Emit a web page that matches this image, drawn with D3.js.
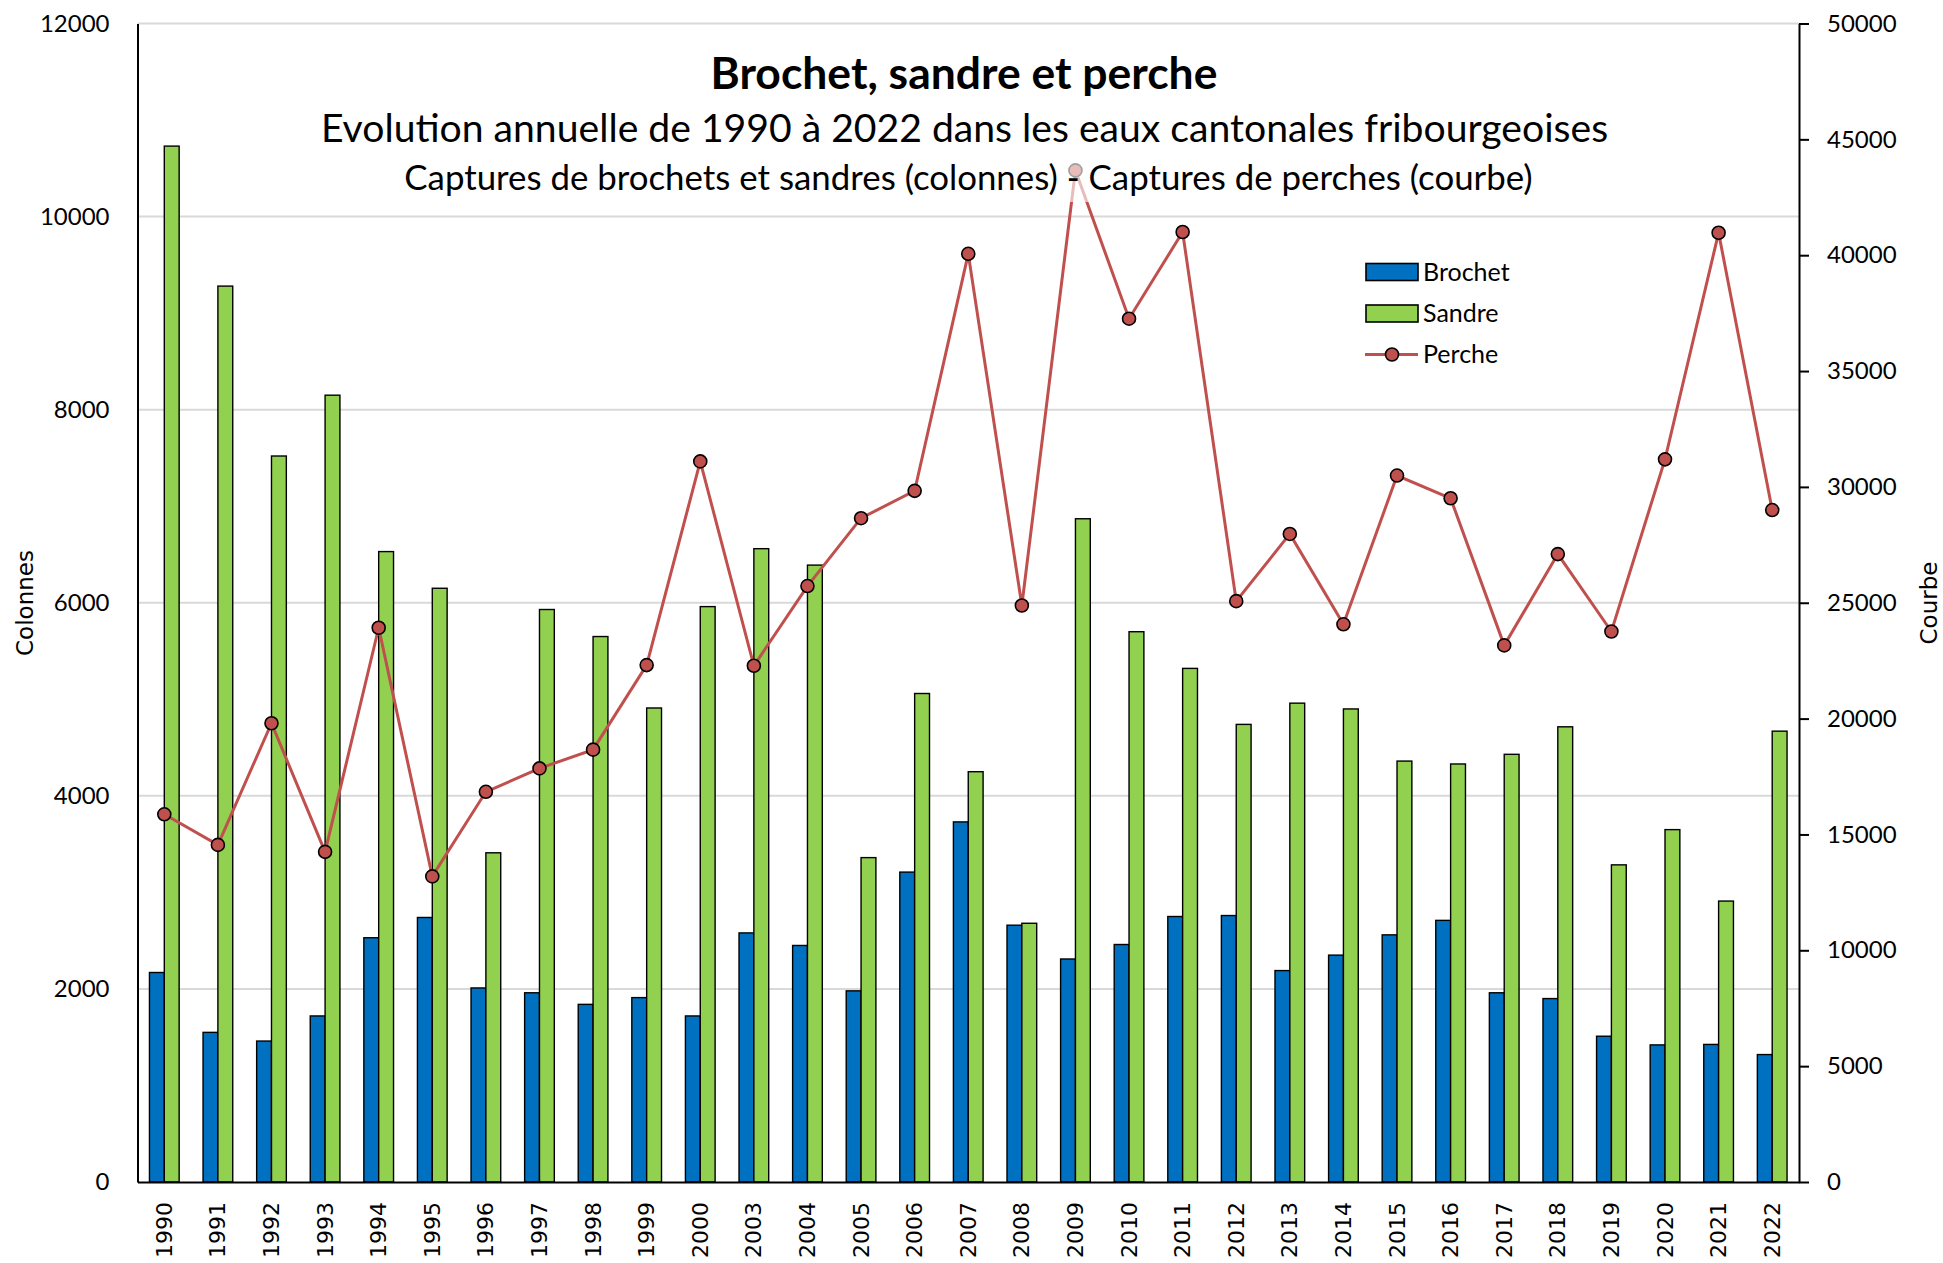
<!DOCTYPE html>
<html>
<head>
<meta charset="utf-8">
<script src="https://cdn.jsdelivr.net/npm/d3@7"></script>
<style>
  html, body { margin: 0; padding: 0; background: #ffffff; }
  svg { display: block; }
</style>
</head>
<body>
<svg id="chart" width="1943" height="1263"></svg>
<script>
// ---------- DATA ----------
const years = ["1990","1991","1992","1993","1994","1995","1996","1997","1998","1999","2000",
  "2003","2004","2005","2006","2007","2008","2009","2010","2011","2012","2013","2014","2015",
  "2016","2017","2018","2019","2020","2021","2022"];
const brochet = [2170,1550,1460,1720,2530,2740,2010,1960,1840,1910,1720,
  2580,2450,1980,3210,3730,2660,2310,2460,2750,2760,2190,2350,2560,2710,1960,1900,1510,1420,1425,1320];
const sandre = [10730,9280,7520,8150,6530,6150,3410,5930,5650,4910,5960,
  6560,6390,3360,5060,4250,2680,6870,5700,5320,4740,4960,4900,4360,4330,4430,4715,3285,3650,2910,4670];
const perche = [15870,14550,19800,14250,23920,13190,16840,17850,18660,22310,31100,
  22280,25720,28650,29830,40060,24880,43660,37260,41000,25070,27970,24070,30490,29510,23160,27100,23760,31190,40970,29000];
const leftTicks = [0,2000,4000,6000,8000,10000,12000];
const rightTicks = [0,5000,10000,15000,20000,25000,30000,35000,40000,45000,50000];
const seriesNames = ["Brochet","Sandre","Perche"];
const titleText = "Brochet, sandre et perche";
const subtitle1 = "Evolution annuelle de 1990 à 2022 dans les eaux cantonales fribourgeoises";
const subtitle2 = "Captures de brochets et sandres (colonnes) - Captures de perches (courbe)";
const leftAxisTitle = "Colonnes";
const rightAxisTitle = "Courbe";

// ---------- LAYOUT ----------
const svg = d3.select("#chart");
const X0 = 137.5, X1 = 1799, Y0 = 1182, Y1 = 23.5;
const colors = { Brochet: "#0070C0", Sandre: "#92D050", Perche: "#C0504D" };
const tickFont = "Lato, 'Open Sans', sans-serif";
const sideFont = "'DejaVu Sans', Verdana, sans-serif";

svg.append("rect").attr("width",1943).attr("height",1263).attr("fill","#fff");

const x = d3.scaleBand().domain(years).range([X0, X1]).paddingInner(0.446).paddingOuter(0.223);
const xs = d3.scaleBand().domain(["Brochet","Sandre"]).range([0, x.bandwidth()]);
const yL = d3.scaleLinear().domain([0, 12000]).range([Y0, Y1]);
const yR = d3.scaleLinear().domain([0, 50000]).range([Y0, Y1]);

// gridlines
svg.append("g").selectAll("line").data(leftTicks.filter(d => d > 0)).join("line")
  .attr("x1", X0).attr("x2", X1)
  .attr("y1", d => yL(d)).attr("y2", d => yL(d))
  .attr("stroke", "#D9D9D9").attr("stroke-width", 2);

// bars
const rows = years.map((yr, i) => ({ year: yr, Brochet: brochet[i], Sandre: sandre[i] }));
const gBars = svg.append("g");
["Brochet","Sandre"].forEach(s => {
  gBars.append("g").selectAll("rect").data(rows).join("rect")
    .attr("x", d => x(d.year) + xs(s))
    .attr("width", xs.bandwidth())
    .attr("y", d => yL(d[s]))
    .attr("height", d => Y0 - yL(d[s]))
    .attr("fill", colors[s])
    .attr("stroke", "#000").attr("stroke-width", 1.4);
});

// axes
const axL = d3.axisLeft(yL).tickValues(leftTicks).tickSize(0).tickPadding(28).tickFormat(d3.format("d"));
const gL = svg.append("g").attr("transform", `translate(${X0},0)`).call(axL);
gL.select(".domain").attr("stroke", "#000").attr("stroke-width", 2);
gL.selectAll("text").attr("font-family", tickFont).attr("font-size", 24).attr("fill", "#000");

const axR = d3.axisRight(yR).tickValues(rightTicks).tickSize(10).tickSizeOuter(0).tickPadding(18).tickFormat(d3.format("d"));
const gR = svg.append("g").attr("transform", `translate(${X1},0)`).call(axR);
gR.select(".domain").attr("stroke", "#000").attr("stroke-width", 2);
gR.selectAll(".tick line").attr("stroke", "#000").attr("stroke-width", 2);
gR.selectAll("text").attr("font-family", tickFont).attr("font-size", 24).attr("fill", "#000");

const axB = d3.axisBottom(x).tickSize(0).tickSizeOuter(0);
const gB = svg.append("g").attr("transform", `translate(0,${Y0})`).call(axB);
gB.select(".domain").attr("stroke", "#000").attr("stroke-width", 2);
gB.selectAll("text")
  .attr("font-family", sideFont).attr("font-size", 22).attr("fill", "#000")
  .attr("text-anchor", "end")
  .attr("dy", null).attr("y", null)
  .attr("transform", "translate(7.5,20) rotate(-90)");

// perch line
const pts = years.map((yr, i) => ({ year: yr, v: perche[i] }));
const line = d3.line().x(d => x(d.year) + x.bandwidth() / 2).y(d => yR(d.v));
svg.append("path").datum(pts).attr("d", line)
  .attr("fill", "none").attr("stroke", colors.Perche).attr("stroke-width", 3);
svg.append("g").selectAll("circle").data(pts).join("circle")
  .attr("cx", d => x(d.year) + x.bandwidth() / 2).attr("cy", d => yR(d.v))
  .attr("r", 6.5).attr("fill", colors.Perche).attr("stroke", "#000").attr("stroke-width", 1.6);

// axis titles
svg.append("text").text(leftAxisTitle)
  .attr("transform", "translate(33,603) rotate(-90)")
  .attr("text-anchor", "middle").attr("font-family", sideFont).attr("font-size", 23).attr("fill", "#000");
svg.append("text").text(rightAxisTitle)
  .attr("transform", "translate(1937,603) rotate(-90)")
  .attr("text-anchor", "middle").attr("font-family", sideFont).attr("font-size", 23).attr("fill", "#000");

// legend
const lg = svg.append("g").attr("transform", "translate(1366,0)");
const lgY = [272, 313.5, 354.5];
["Brochet","Sandre"].forEach((s, i) => {
  lg.append("rect").attr("x", 0).attr("y", lgY[i] - 8.5).attr("width", 52).attr("height", 17)
    .attr("fill", colors[s]).attr("stroke", "#000").attr("stroke-width", 1.6);
});
lg.append("line").attr("x1", -1).attr("x2", 52).attr("y1", lgY[2]).attr("y2", lgY[2])
  .attr("stroke", colors.Perche).attr("stroke-width", 3);
lg.append("circle").attr("cx", 26).attr("cy", lgY[2]).attr("r", 6.5)
  .attr("fill", colors.Perche).attr("stroke", "#000").attr("stroke-width", 1.6);
seriesNames.forEach((s, i) => {
  lg.append("text").text(s).attr("x", 57).attr("y", lgY[i] + 8.5)
    .attr("font-family", tickFont).attr("font-size", 25).attr("fill", "#000");
});

// title block with semi-transparent background
svg.append("rect").attr("x", 305).attr("y", 40).attr("width", 1320).attr("height", 162)
  .attr("fill", "#fff").attr("opacity", 0.62);

function fit(sel, w) {
  const base = 40;
  sel.attr("font-size", base);
  const len = sel.node().getComputedTextLength();
  sel.attr("font-size", base * w / len);
}
const t0 = svg.append("text").text(titleText).attr("x", 964).attr("y", 88.5)
  .attr("text-anchor", "middle").attr("font-family", tickFont).attr("font-weight", "bold").attr("fill", "#000");
fit(t0, 507);
const t1 = svg.append("text").text(subtitle1).attr("x", 964.5).attr("y", 141.5)
  .attr("text-anchor", "middle").attr("font-family", tickFont).attr("fill", "#000");
fit(t1, 1288);
const t2 = svg.append("text").text(subtitle2).attr("x", 968.5).attr("y", 189.5)
  .attr("text-anchor", "middle").attr("font-family", tickFont).attr("fill", "#000");
fit(t2, 1129);
</script>
</body>
</html>
